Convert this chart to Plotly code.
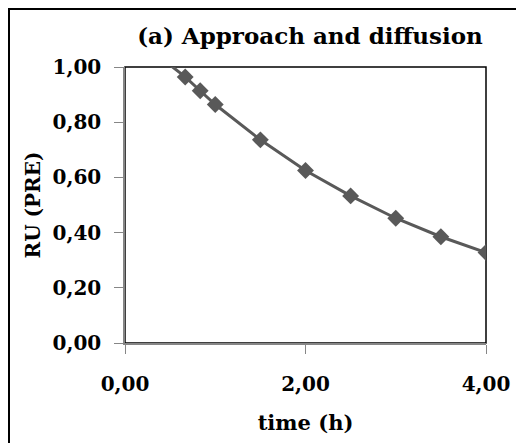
import plotly.graph_objects as go

# time (h) vs relative uptake
time_h = [0.333, 0.667, 0.833, 1.0, 1.5, 2.0, 2.5, 3.0, 3.5, 4.0]
ru_pre = [1.05, 0.964, 0.914, 0.864, 0.736, 0.625, 0.533, 0.452, 0.385, 0.328]

x_ticks = [0, 2, 4]
x_labels = ["0,00", "2,00", "4,00"]
y_ticks = [0, 0.2, 0.4, 0.6, 0.8, 1.0]
y_labels = ["0,00", "0,20", "0,40", "0,60", "0,80", "1,00"]

FONT = "DejaVu Serif"
GREY = "#595959"
AXIS_GREY = "#868686"

W, H = 516, 435
L, R, T, B = 117, 38, 59, 100
pw, ph = W - L - R, H - T - B

fig = go.Figure()

fig.add_trace(
    go.Scatter(
        x=time_h,
        y=ru_pre,
        mode="lines+markers",
        line=dict(color=GREY, width=3),
        marker=dict(symbol="diamond", size=13, color=GREY),
        cliponaxis=True,
        showlegend=False,
    )
)

# plot area border (black) + outer chart border
fig.add_shape(type="rect", xref="paper", yref="paper", x0=0, x1=1, y0=0, y1=1,
              line=dict(color="black", width=1.5), layer="below")
fig.add_shape(type="rect", xref="paper", yref="paper",
              x0=(1 - L) / pw, x1=1.3, y0=-0.6, y1=1 + (T - 1) / ph,
              line=dict(color="black", width=2), layer="below")

fig.update_layout(
    width=W,
    height=H,
    margin=dict(l=L, r=R, t=T, b=B),
    paper_bgcolor="white",
    plot_bgcolor="white",
    font=dict(family=FONT, size=20, color="black"),
    title=dict(
        text="<b>(a) Approach and diffusion</b>",
        x=302 / W, xanchor="center",
        y=1 - 28 / H, yanchor="middle",
        font=dict(family=FONT, size=23, color="black"),
    ),
)

fig.update_xaxes(
    range=[0, 4],
    tickvals=x_ticks,
    ticktext=["<b>%s</b>" % t for t in x_labels],
    showgrid=False,
    zeroline=False,
    showline=True,
    linecolor=AXIS_GREY,
    linewidth=1.5,
    ticks="outside",
    ticklen=9,
    tickcolor=AXIS_GREY,
    ticklabelstandoff=13,
    title=dict(text="<b>time (h)</b>", standoff=21, font=dict(size=21)),
)

fig.update_yaxes(
    range=[0, 1],
    tickvals=y_ticks,
    ticktext=["<b>%s</b>" % t for t in y_labels],
    showgrid=False,
    zeroline=False,
    showline=True,
    linecolor=AXIS_GREY,
    linewidth=1.5,
    ticks="outside",
    ticklen=9,
    tickcolor=AXIS_GREY,
    ticklabelstandoff=9,
    title=dict(text="<b>RU (PRE)</b>", standoff=7, font=dict(size=20)),
)

fig.write_html("out.html")
